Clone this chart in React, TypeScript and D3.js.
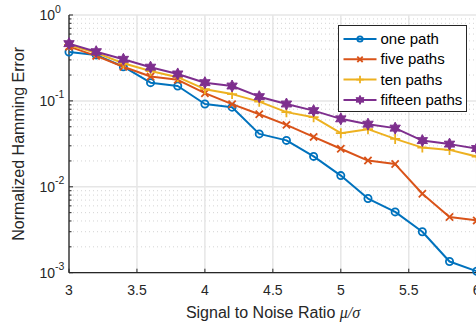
import * as d3 from 'd3'

// SNR values (x axis)
const snr = [3, 3.2, 3.4, 3.6, 3.8, 4, 4.2, 4.4, 4.6, 4.8, 5, 5.2, 5.4, 5.6, 5.8, 6]

// Normalized Hamming error per number of paths
const onePath = [0.371, 0.343, 0.25, 0.163, 0.149, 0.092, 0.0845, 0.0413, 0.0347, 0.0226, 0.0135, 0.0073, 0.0051, 0.003, 0.00135, 0.00104]
const fivePaths = [0.428, 0.334, 0.25, 0.192, 0.176, 0.123, 0.0916, 0.07, 0.0526, 0.0381, 0.0277, 0.0202, 0.0184, 0.0083, 0.00445, 0.00406]
const tenPaths = [0.448, 0.362, 0.274, 0.223, 0.189, 0.137, 0.12, 0.098, 0.074, 0.0646, 0.0421, 0.0469, 0.0361, 0.0286, 0.0269, 0.0225]
const fifteenPaths = [0.464, 0.374, 0.305, 0.247, 0.206, 0.163, 0.149, 0.112, 0.092, 0.077, 0.0618, 0.0536, 0.0482, 0.0345, 0.0314, 0.0279]

const xTicks = [3, 3.5, 4, 4.5, 5, 5.5, 6]
const yTicks = [0.001, 0.01, 0.1, 1]
const yTickExp = ['-3', '-2', '-1', '0']

const series = [
  { name: 'one path', values: onePath, color: '#0072BD', marker: 'o' },
  { name: 'five paths', values: fivePaths, color: '#D95319', marker: 'x' },
  { name: 'ten paths', values: tenPaths, color: '#EDB120', marker: '+' },
  { name: 'fifteen paths', values: fifteenPaths, color: '#7E2F8E', marker: 'h' },
]

const W = 476
const H = 322
const margin = { top: 15, left: 69, bottom: 272.7, right: 476.7 }
const font = '"Liberation Sans", Arial, sans-serif'
const textColor = '#262626'

// hexagram path centred on 0,0
function hexagram(r: number) {
  const pts: string[] = []
  for (let i = 0; i < 12; i++) {
    const a = (Math.PI / 6) * i - Math.PI / 2
    const rr = i % 2 === 0 ? r : r * 0.55
    pts.push(`${(Math.cos(a) * rr).toFixed(2)},${(Math.sin(a) * rr).toFixed(2)}`)
  }
  return 'M' + pts.join('L') + 'Z'
}

function Marker({ type, x, y, color, k = 1 }: { type: string; x: number; y: number; color: string; k?: number }) {
  if (type === 'o') {
    return <circle cx={x} cy={y} r={3.6 * k} fill="none" stroke={color} strokeWidth={1.8} />
  }
  if (type === 'x') {
    const s = 3.6 * k
    return (
      <path d={`M${x - s},${y - s}L${x + s},${y + s}M${x - s},${y + s}L${x + s},${y - s}`} stroke={color} strokeWidth={1.8} />
    )
  }
  if (type === '+') {
    const s = 5 * k
    return <path d={`M${x - s},${y}L${x + s},${y}M${x},${y - s}L${x},${y + s}`} stroke={color} strokeWidth={1.8} />
  }
  return <path d={hexagram(6 * k)} transform={`translate(${x},${y})`} fill={color} stroke={color} strokeWidth={1} />
}

export default function App() {
  const x = d3.scaleLinear().domain([3, 6]).range([margin.left, margin.right])
  const y = d3.scaleLog().domain([0.001, 1]).range([margin.bottom, margin.top])

  const line = d3.line<number>()
    .x((_, i) => x(snr[i]))
    .y(d => y(d))

  // minor grid values 2..9 per decade
  const minor: number[] = []
  for (let e = -3; e < 0; e++) {
    for (let k = 2; k <= 9; k++) minor.push(k * Math.pow(10, e))
  }

  const legend = { x: 338.5, y: 25.5, w: 128, h: 86 }

  return (
    <svg width={W} height={H} style={{ position: 'absolute', left: 0, top: 0, background: '#fff' }} fontFamily={font}>
      <rect width={W} height={H} fill="#fff" />
      {/* minor grid */}
      {minor.map(v => (
        <line key={'m' + v} x1={margin.left} x2={margin.right} y1={y(v)} y2={y(v)} stroke="#d4d4d4" strokeWidth={1} strokeDasharray="1,3" />
      ))}
      {/* major grid */}
      {yTicks.map(v => (
        <line key={'gy' + v} x1={margin.left} x2={margin.right} y1={y(v)} y2={y(v)} stroke="#e6e6e6" strokeWidth={1.5} />
      ))}
      {xTicks.map(v => (
        <line key={'gx' + v} x1={x(v)} x2={x(v)} y1={margin.top} y2={margin.bottom} stroke="#e6e6e6" strokeWidth={1.5} />
      ))}

      {/* axes */}
      <line x1={margin.left} x2={margin.left} y1={margin.top} y2={margin.bottom} stroke="#262626" strokeWidth={1.3} />
      <line x1={margin.left} x2={margin.right} y1={margin.bottom} y2={margin.bottom} stroke="#262626" strokeWidth={1.3} />
      {xTicks.map(v => (
        <line key={'tx' + v} x1={x(v)} x2={x(v)} y1={margin.bottom} y2={margin.bottom - 4} stroke="#262626" strokeWidth={1} />
      ))}
      {yTicks.map(v => (
        <line key={'ty' + v} x1={margin.left} x2={margin.left + 4} y1={y(v)} y2={y(v)} stroke="#262626" strokeWidth={1} />
      ))}
      {minor.map(v => (
        <line key={'tm' + v} x1={margin.left} x2={margin.left + 2.5} y1={y(v)} y2={y(v)} stroke="#262626" strokeWidth={1} />
      ))}

      {/* tick labels */}
      {xTicks.map(v => (
        <text key={'lx' + v} x={x(v)} y={295} textAnchor="middle" fontSize={14} fill={textColor}>{v}</text>
      ))}
      {yTicks.map((v, i) => (
        <text key={'ly' + v} x={55} y={y(v) + 5} textAnchor="end" fontSize={14} fill={textColor}>
          10
          <tspan x={55} dy={-7.5} textAnchor="start" fontSize={10.5}>{yTickExp[i]}</tspan>
        </text>
      ))}

      {/* axis labels */}
      <text x={273} y={318} textAnchor="middle" fontSize={16} fill={textColor}>
        Signal to Noise Ratio <tspan fontFamily='"Liberation Serif", "DejaVu Serif", serif' fontStyle="italic">μ/σ</tspan>
      </text>
      <text transform={`translate(24,${(margin.top + margin.bottom) / 2}) rotate(-90)`} textAnchor="middle" fontSize={16} fill={textColor}>
        Normalized Hamming Error
      </text>

      {/* series */}
      {series.map(s => (
        <g key={s.name}>
          <path d={line(s.values) || ''} fill="none" stroke={s.color} strokeWidth={2} strokeLinejoin="round" />
          {s.values.map((v, i) => (
            <Marker key={i} type={s.marker} x={x(snr[i])} y={y(v)} color={s.color} />
          ))}
        </g>
      ))}

      {/* legend */}
      <rect x={legend.x} y={legend.y} width={legend.w} height={legend.h} fill="#fff" stroke="#262626" strokeWidth={1} />
      {series.map((s, i) => {
        const ly = legend.y + 13.5 + i * 20.3
        return (
          <g key={'lg' + s.name}>
            <line x1={343.5} x2={376.5} y1={ly} y2={ly} stroke={s.color} strokeWidth={2} />
            <Marker type={s.marker} x={360} y={ly} color={s.color} k={0.75} />
            <text x={380.5} y={ly + 5} fontSize={15} fill="#000">{s.name}</text>
          </g>
        )
      })}
    </svg>
  )
}
